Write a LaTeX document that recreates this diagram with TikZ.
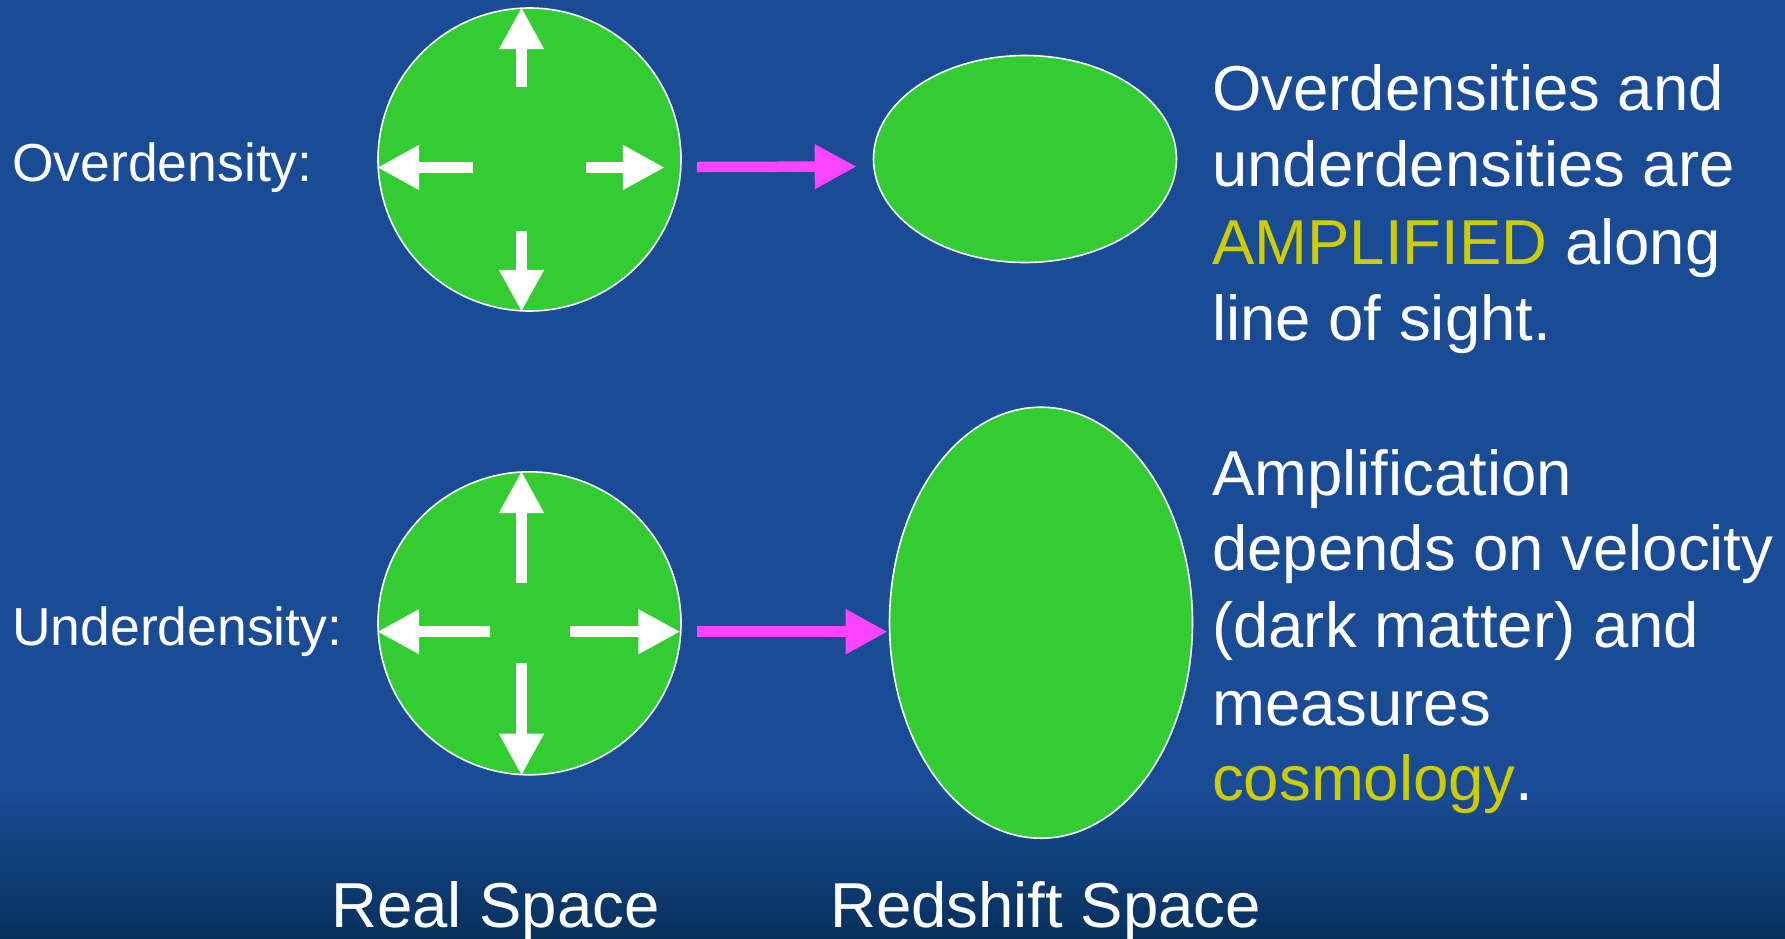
\documentclass[tikz,border=0pt]{standalone}
\usepackage{fontspec}
\setmainfont{Liberation Sans}
\usetikzlibrary{arrows.meta,shapes.geometric}

\definecolor{slideblue}{RGB}{26,76,150}
\definecolor{slidenavy}{RGB}{6,48,92}
\definecolor{blobgreen}{RGB}{51,204,51}
\definecolor{arrowpink}{RGB}{255,68,255}
\definecolor{keyyellow}{RGB}{204,204,0}

\tikzset{
  blob/.style={draw=white, line width=1.6pt, fill=blobgreen, inner sep=0pt},
  burst/.style={white, line width=10.5pt, -{Triangle[length=42pt,width=42pt]}},
  zmap/.style={arrowpink, line width=10.5pt, -{Triangle[length=42pt,width=42pt]}},
  sidetext/.style={white, anchor=base west, inner sep=0pt, font=\fontsize{53.5}{64}\selectfont},
  notetext/.style={white, anchor=base west, inner sep=0pt, font=\fontsize{63.5}{76}\selectfont},
  captext/.style={white, anchor=base west, inner sep=0pt, font=\fontsize{63.5}{76}\selectfont},
}

\begin{document}
\begin{tikzpicture}[x=1pt,y=1pt,yscale=-1,xscale=1]
%set diagram left start at 0, and has height of 938
\fill[slideblue] (0,0) rectangle (1785,790);
\shade[top color=slideblue, bottom color=slidenavy] (0,789) rectangle (1785,938);
\useasboundingbox (0,0) rectangle (1785,938);

%Shape: Circle
\node[blob, circle, minimum size=303pt] (ovreal) at (529.5,159.5) {};
%Shape: Ellipse
\node[blob, ellipse, minimum width=303pt, minimum height=207pt] (ovred) at (1025,159) {};
%Shape: Circle
\node[blob, circle, minimum size=303pt] (unreal) at (529.5,623.3) {};
%Shape: Ellipse
\node[blob, ellipse, minimum width=303pt, minimum height=431pt] (unred) at (1041,622.7) {};

%Straight Lines
\draw[burst] ([shift={(-8,-72.5)}]ovreal.center) -- ([shift={(-8,0)}]ovreal.north);
\draw[burst] ([shift={(-8,71.5)}]ovreal.center) -- ([shift={(-8,0)}]ovreal.south);
\draw[burst] ([shift={(-56.5,8)}]ovreal.center) -- ([shift={(0,8)}]ovreal.west);
\draw[burst] ([shift={(56.5,8)}]ovreal.center) -- ([shift={(-17,8)}]ovreal.east);
%Straight Lines
\draw[burst] ([shift={(-8,-40)}]unreal.center) -- ([shift={(-8,0)}]unreal.north);
\draw[burst] ([shift={(-8,40)}]unreal.center) -- ([shift={(-8,0)}]unreal.south);
\draw[burst] ([shift={(-40,8.4)}]unreal.center) -- ([shift={(0,8.4)}]unreal.west);
\draw[burst] ([shift={(40,8.4)}]unreal.center) -- ([shift={(-1.5,8.4)}]unreal.east);

%Straight Lines
\draw[zmap] ([shift={(15,7.5)}]ovreal.east) -- ([shift={(-16,7.5)}]ovred.west);
\draw[zmap] ([shift={(15,8.4)}]unreal.east) -- ([shift={(-1,9)}]unred.west);

% Text Node
\node[sidetext] (ovtag) at (12,181) {Overdensity:};
% Text Node
\node[sidetext] (untag) at (12,645) {Underdensity:};

% Text Node
\node[notetext] (amp1) at (1212,110.7) {Overdensities and};
\node[notetext] (amp2) at (1212,186.7) {underdensities are};
\node[notetext] (amp3) at (1212,264) {\textcolor{keyyellow}{AMPLIFIED} along};
\node[notetext] (amp4) at (1212,340) {line of sight.};
% Text Node
\node[notetext] (cos1) at (1212,495) {Amplification};
\node[notetext] (cos2) at (1212,570.7) {depends on velocity};
\node[notetext] (cos3) at (1212,647.3) {(dark matter) and};
\node[notetext] (cos4) at (1212,725) {measures};
\node[notetext] (cos5) at (1212,800.7) {\textcolor{keyyellow}{cosmology}.};

% Text Node
\node[captext] (realcap) at (331,927) {Real Space};
% Text Node
\node[captext] (zcap) at (830,927) {Redshift Space};

\end{tikzpicture}
\end{document}
